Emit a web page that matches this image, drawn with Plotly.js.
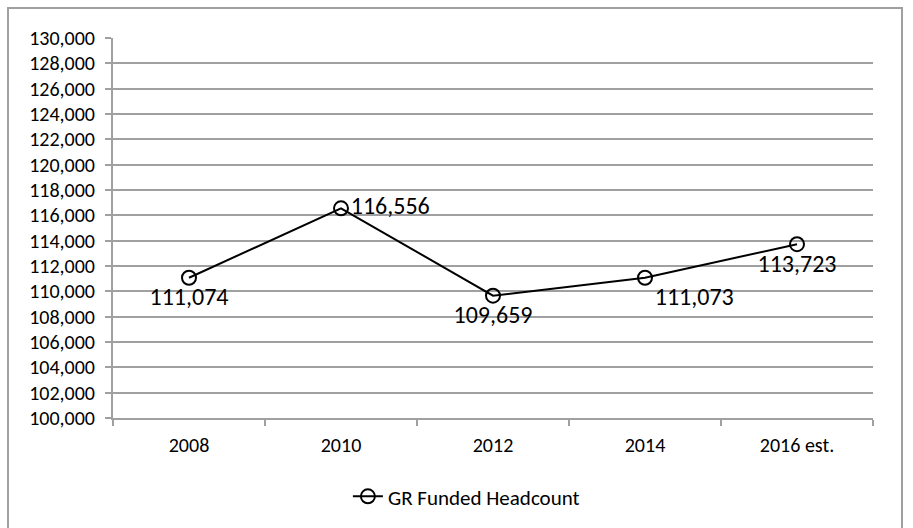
<!DOCTYPE html>
<html>
<head>
<meta charset="utf-8">
<script src="https://cdn.plot.ly/plotly-3.0.1.min.js"></script>
<style>
  html, body { margin: 0; padding: 0; background: #fff; }
  #wrap { position: relative; width: 913px; height: 528px; overflow: hidden; }
  #chart { position: absolute; left: 0; top: 0; width: 913px; height: 528px; }
  #frame { position: absolute; left: 7px; top: 7px; width: 896px; height: 540px;
           border: 2px solid #a0a0a0; box-sizing: border-box; pointer-events: none; }
</style>
</head>
<body>
<div id="wrap">
  <div id="chart"></div>
  <div id="frame"></div>
</div>
<script>
const years = ["2008", "2010", "2012", "2014", "2016 est."];
const headcount = [111074, 116556, 109659, 111073, 113723];
const labelPositions = ["bottom center", "middle right", "bottom center", "bottom right", "bottom center"];
const seriesName = "GR Funded Headcount";

const font = "Carlito, Lato, 'Open Sans', sans-serif";

const trace = {
  type: "scatter",
  mode: "lines+markers+text",
  x: years,
  y: headcount,
  name: seriesName,
  text: headcount.map(v => v.toLocaleString("en-US")),
  textposition: labelPositions,
  textfont: { family: font, size: 24, color: "#000" },
  line: { color: "#000", width: 2 },
  marker: { symbol: "circle-open", size: 14, color: "#000", line: { color: "#000", width: 2 } },
  cliponaxis: false
};

const layout = {
  width: 913, height: 528,
  margin: { l: 113, r: 40, t: 38, b: 109 },
  paper_bgcolor: "#fff", plot_bgcolor: "#fff",
  font: { family: font, size: 20, color: "#000" },
  showlegend: true,
  legend: { orientation: "h", x: 0.465, xanchor: "center", y: -0.15, yanchor: "top",
            font: { family: font, size: 21, color: "#000" } },
  xaxis: {
    type: "category",
    range: [-0.5, 4.5],
    tickson: "boundaries",
    ticks: "outside", ticklen: 6, tickwidth: 2, tickcolor: "#a0a0a0",
    ticklabelstandoff: 8,
    showline: true, linecolor: "#a0a0a0", linewidth: 2,
    showgrid: false, zeroline: false,
    tickfont: { family: font, size: 20, color: "#000" }
  },
  yaxis: {
    range: [100000, 130000],
    dtick: 2000, tick0: 100000,
    tickformat: ",d",
    ticks: "outside", ticklen: 6, tickwidth: 2, tickcolor: "#a0a0a0",
    ticklabelstandoff: 6,
    showline: true, linecolor: "#a0a0a0", linewidth: 2,
    showgrid: true, gridcolor: "#a0a0a0", gridwidth: 2,
    zeroline: false,
    tickfont: { family: font, size: 20, color: "#000" }
  }
};

Plotly.newPlot("chart", [trace], layout, { displayModeBar: false, staticPlot: true });
</script>
</body>
</html>
